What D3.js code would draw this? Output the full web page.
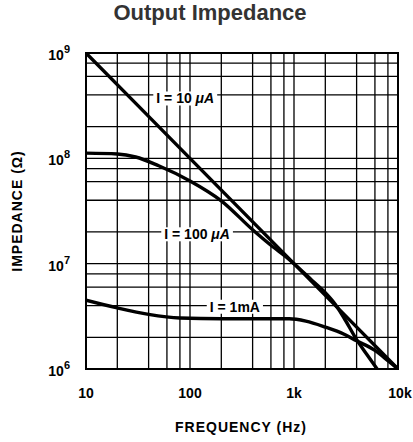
<!DOCTYPE html>
<html lang="en">
<head>
<meta charset="UTF-8">
<title>Output Impedance</title>
<script src="https://d3js.org/d3.v7.min.js"></script>
<style>
  body { margin: 0; background: #fff; }
  svg { display: block; font-family: "Liberation Sans", Arial, sans-serif; }
</style>
</head>
<body>
<svg width="413" height="442"></svg>
<script>
  // decades and minor grid mantissas
  const freqDecades = [10, 100, 1000, 10000];
  const freqLabels = ["10", "100", "1k", "10k"];
  const impDecades = [1e6, 1e7, 1e8, 1e9];
  const impExponents = ["6", "7", "8", "9"];
  const gridMantissas = [2, 4, 6, 8];

  // curves: [frequency Hz, impedance ohm]
  const curve10uA = [[10, 1e9], [100, 1e8], [1000, 1e7], [10000, 1e6]];
  const curve100uA = [[10, 1.12e8], [20, 1.1e8], [30, 1.03e8], [50, 8.5e7], [100, 6.1e7],
    [200, 3.95e7], [400, 2.1e7], [630, 1.44e7], [840, 1.16e7], [1000, 1.0e7], [1500, 6.9e6],
    [2000, 5.3e6], [2500, 4.1e6], [3000, 3.1e6], [4000, 1.9e6], [5000, 1.38e6], [6300, 1.0e6]];
  const curve1mA = [[10, 4.5e6], [20, 3.8e6], [40, 3.3e6], [80, 3.05e6], [200, 3.0e6],
    [500, 3.0e6], [900, 3.0e6], [1300, 2.85e6], [2000, 2.5e6], [3000, 2.15e6], [4000, 1.85e6],
    [6000, 1.5e6], [8000, 1.2e6], [10000, 1.0e6]];

  const curves = [curve10uA, curve100uA, curve1mA];
  const curveLabels = ["I = 10 ", "I = 100 ", "I = 1mA"];
  const curveUnits = ["\u03bcA", "\u03bcA", ""];
  // label centres, in chart units
  const labelAt = [[90, 3.7e8], [117, 1.9e7], [270, 3.9e6]];

  const svg = d3.select("svg");
  const x = d3.scaleLog().domain([10, 10000]).range([86, 398]);
  const y = d3.scaleLog().domain([1e6, 1e9]).range([369, 53]);

  svg.append("text")
    .attr("x", 210).attr("y", 20)
    .attr("text-anchor", "middle")
    .attr("font-size", "22px").attr("font-weight", "bold")
    .attr("fill", "#333")
    .text("Output Impedance");

  // grid
  const xGrid = [];
  freqDecades.forEach((d, i) => {
    xGrid.push(d);
    if (i < freqDecades.length - 1) gridMantissas.forEach(m => xGrid.push(d * m));
  });
  const yGrid = [];
  impDecades.forEach((d, i) => {
    yGrid.push(d);
    if (i < impDecades.length - 1) gridMantissas.forEach(m => yGrid.push(d * m));
  });

  const grid = svg.append("g").attr("stroke", "#000").attr("stroke-width", 1.3);
  grid.selectAll(".vx").data(xGrid).enter().append("line")
    .attr("x1", d => x(d)).attr("x2", d => x(d))
    .attr("y1", y(1e6)).attr("y2", y(1e9));
  grid.selectAll(".hy").data(yGrid).enter().append("line")
    .attr("y1", d => y(d)).attr("y2", d => y(d))
    .attr("x1", x(10)).attr("x2", x(10000));

  svg.append("rect")
    .attr("x", x(10)).attr("y", y(1e9))
    .attr("width", x(10000) - x(10)).attr("height", y(1e6) - y(1e9))
    .attr("fill", "none").attr("stroke", "#000").attr("stroke-width", 2);

  svg.append("clipPath").attr("id", "plot")
    .append("rect")
    .attr("x", x(10)).attr("y", y(1e9))
    .attr("width", x(10000) - x(10)).attr("height", y(1e6) - y(1e9));

  const line = d3.line()
    .x(d => x(d[0]))
    .y(d => y(d[1]))
    .curve(d3.curveMonotoneX);

  svg.append("g").attr("clip-path", "url(#plot)")
    .selectAll("path").data(curves).enter().append("path")
    .attr("d", line)
    .attr("fill", "none")
    .attr("stroke", "#000")
    .attr("stroke-width", 3.4)
    .attr("stroke-linejoin", "round");

  // curve labels with white backing
  curveLabels.forEach((t, i) => {
    const g = svg.append("g");
    const txt = g.append("text")
      .attr("x", x(labelAt[i][0])).attr("y", y(labelAt[i][1]) + 5)
      .attr("text-anchor", "middle")
      .attr("font-size", "14px").attr("font-weight", "bold");
    txt.append("tspan").text(t);
    if (curveUnits[i]) txt.append("tspan").attr("font-style", "italic").text(curveUnits[i]);
    const b = txt.node().getBBox();
    g.insert("rect", "text")
      .attr("x", b.x - 3).attr("y", b.y + 1)
      .attr("width", b.width + 6).attr("height", b.height - 2)
      .attr("fill", "#fff");
  });

  // x tick labels
  svg.selectAll(".xt").data(freqDecades).enter().append("text")
    .attr("x", (d, i) => x(d) + (i === freqDecades.length - 1 ? 2 : 0))
    .attr("y", 398)
    .attr("text-anchor", "middle")
    .attr("font-size", "14px").attr("font-weight", "bold")
    .text((d, i) => freqLabels[i]);

  // y tick labels
  impDecades.forEach((d, i) => {
    const t = svg.append("text")
      .attr("x", 70).attr("y", y(d) + 7)
      .attr("text-anchor", "end")
      .attr("font-size", "14px").attr("font-weight", "bold");
    t.append("tspan").text("10");
    t.append("tspan").attr("dy", -7).attr("font-size", "11px").text(impExponents[i]);
  });

  svg.append("text")
    .attr("x", 241).attr("y", 432)
    .attr("text-anchor", "middle")
    .attr("font-size", "14px").attr("font-weight", "bold")
    .attr("letter-spacing", "1px")
    .text("FREQUENCY (Hz)");

  svg.append("text")
    .attr("transform", "translate(22,211) rotate(-90)")
    .attr("text-anchor", "middle")
    .attr("font-size", "14px").attr("font-weight", "bold")
    .attr("letter-spacing", "1px")
    .text("IMPEDANCE (\u03a9)");
</script>
</body>
</html>
